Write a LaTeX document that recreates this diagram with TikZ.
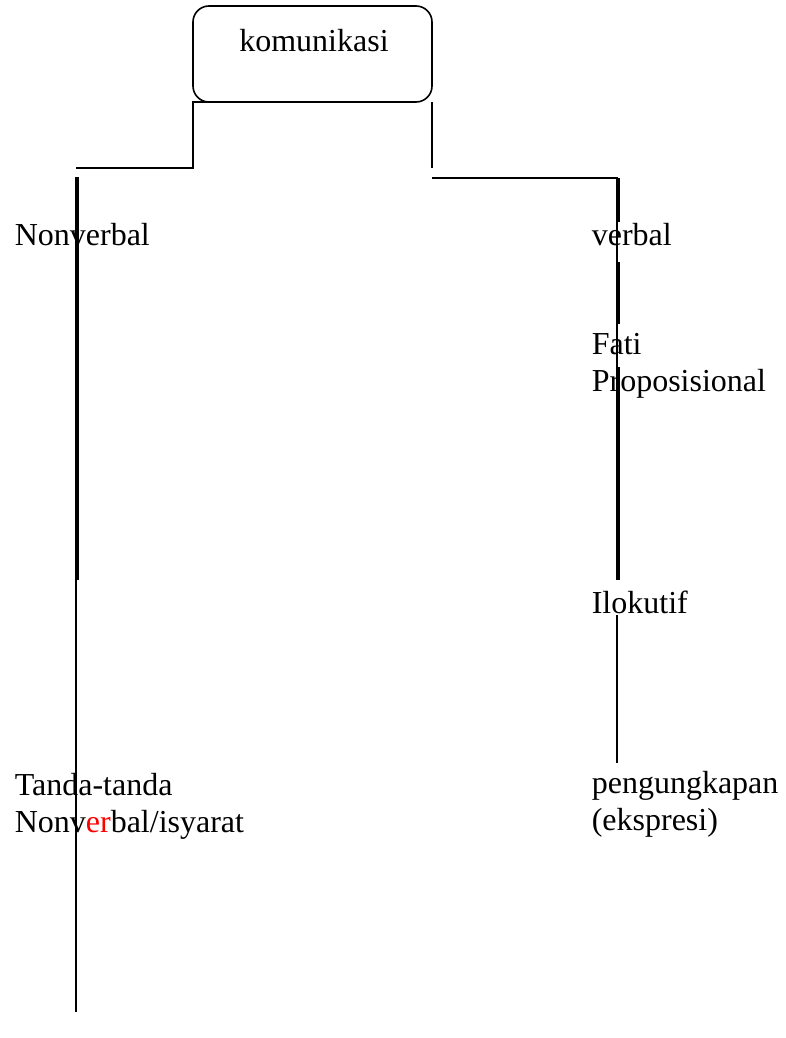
\documentclass[tikz,border=0pt]{standalone}
\usepackage{fontspec}
\setmainfont{Liberation Serif}
\usetikzlibrary{positioning}

\begin{document}
\begin{tikzpicture}[x=1pt, y=-1pt, line width=1.6pt,
    font=\fontsize{32}{37}\selectfont,
    lbl/.style={anchor=base west, inner sep=0pt, align=left}]
        \useasboundingbox (0,0) rectangle (785,1038);
        % top box
        \node[draw, rounded corners=16pt, minimum width=239pt, minimum height=96pt, inner sep=0pt, outer sep=0pt, anchor=north west]
          (kom) at (193,6) {};
        \node[anchor=base, inner sep=0pt] (komtext) at (314,52) {komunikasi};

        % labels (base = last line)
        \node[lbl] (nonverbal) at (14,245) {Nonverbal};
        \node[lbl] (verbal) at (591,245) {verbal};
        \node[lbl] (fati) at (591,391) {Fati\\Proposisional};
        \node[lbl] (ilokutif) at (591,613) {Ilokutif};
        \node[lbl] (tanda) at (14,832) {Tanda-tanda\\Nonv\textcolor{red}{er}bal/isyarat};
        \node[lbl] (ungkap) at (591,830) {pengungkapan\\(ekspresi)};

        % branch points
        \coordinate (kl) at (193,168);
        \coordinate (nvturn) at (76,168);
        \coordinate (kr) at (432,168);
        \coordinate (vturn) at (617,178);
        \coordinate (vstart) at (432,178);
        \coordinate (nvtop) at (76,177);
        \coordinate (nvmid) at (76,580);
        \coordinate (nvend) at (76,1012);
        \coordinate (vmid) at (617,580);
        \coordinate (vlow) at (617,615);
        \coordinate (vend) at (617,763);

        % left branch
        \draw ([xshift=43pt]kom.south west) -- (kom.south west) -- (kom.south west |- kl) -- (nvturn);
        \draw (nvtop) -- (nvend);
        \draw ([xshift=1.8pt]nvtop) -- ([xshift=1.8pt]nvmid);
        % right branch
        \draw (kom.south east) -- (kom.south east |- kr);
        \draw (vstart) -- (vturn) -- (vmid);
        \draw ([xshift=1.8pt]vturn) -- ([xshift=1.8pt,yshift=-44pt]vturn);
        \draw ([xshift=1.8pt,yshift=-84pt]vturn) -- ([xshift=1.8pt,yshift=-146pt]vturn);
        \draw ([xshift=1.8pt,yshift=-189pt]vturn) -- ([xshift=1.8pt]vmid);
        \draw (vlow) -- (vend);
      \end{tikzpicture}
\end{document}
